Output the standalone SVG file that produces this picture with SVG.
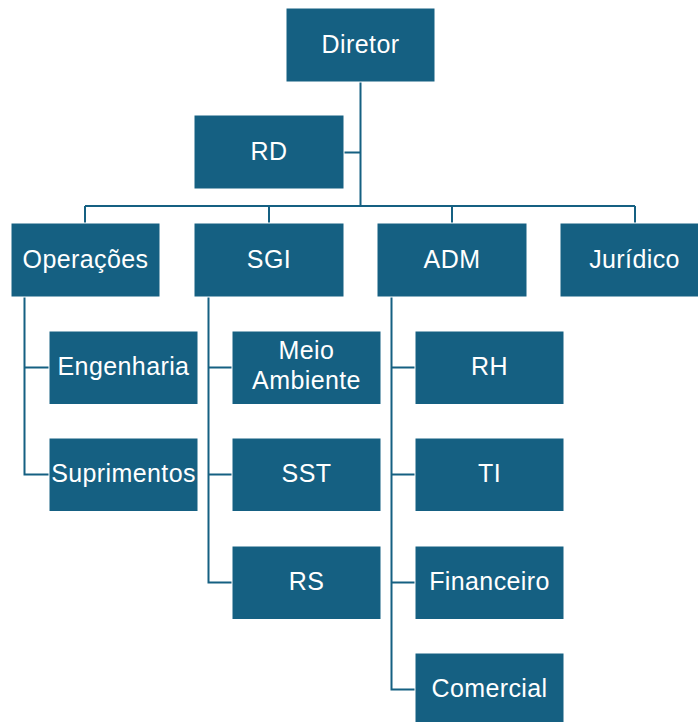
<svg xmlns="http://www.w3.org/2000/svg" width="698" height="722" viewBox="0 0 698 722">
<style>
.box{fill:#156082;stroke:#ffffff;stroke-width:1}
.lbl{fill:#ffffff;font-family:"Liberation Sans","Noto Sans",Arial,sans-serif;font-size:25px;letter-spacing:0.4px;text-anchor:middle}
.con{fill:none;stroke:#156082;stroke-width:2}
</style>
<rect width="698" height="722" fill="#ffffff"/>
<g id="connectors">
<path class="con" d="M360.5 82 V206 M344 152.5 H360.5 M85 206 H635 M85 206 V223 M269 206 V223 M452 206 V223 M635 206 V223"/>
<path class="con" d="M24.5 297 V474.5 H49 M24.5 367.5 H49"/>
<path class="con" d="M208.5 297 V582.5 H232 M208.5 367.5 H232 M208.5 474.5 H232"/>
<path class="con" d="M391.5 297 V689.5 H415 M391.5 367.5 H415 M391.5 474.5 H415 M391.5 582.5 H415"/>
</g>
<g id="diretor"><rect class="box" x="286" y="8" width="149" height="74"/><text class="lbl" x="360.5" y="52.6">Diretor</text></g>
<g id="rd"><rect class="box" x="194" y="115" width="150" height="74"/><text class="lbl" x="269" y="159.8">RD</text></g>
<g id="operacoes"><rect class="box" x="11" y="223" width="149" height="74"/><text class="lbl" x="85.5" y="267.6">Operações</text></g>
<g id="sgi"><rect class="box" x="194" y="223" width="150" height="74"/><text class="lbl" x="269" y="267.6">SGI</text></g>
<g id="adm"><rect class="box" x="377" y="223" width="150" height="74"/><text class="lbl" x="452" y="267.6">ADM</text></g>
<g id="juridico"><rect class="box" x="560" y="223" width="149" height="74"/><text class="lbl" x="634.5" y="267.6">Jurídico</text></g>
<g id="engenharia"><rect class="box" x="49" y="331" width="149" height="73.5"/><text class="lbl" x="123.5" y="375">Engenharia</text></g>
<g id="suprimentos"><rect class="box" x="49" y="438" width="149" height="73.5"/><text class="lbl" x="123.5" y="482">Suprimentos</text></g>
<g id="meio-ambiente"><rect class="box" x="232" y="331" width="149" height="73.5"/><text class="lbl" x="306.5" y="359.3">Meio</text><text class="lbl" x="306.5" y="389">Ambiente</text></g>
<g id="sst"><rect class="box" x="232" y="438" width="149" height="73.5"/><text class="lbl" x="306.5" y="482">SST</text></g>
<g id="rs"><rect class="box" x="232" y="546" width="149" height="73.5"/><text class="lbl" x="306.5" y="590">RS</text></g>
<g id="rh"><rect class="box" x="415" y="331" width="149" height="73.5"/><text class="lbl" x="489.5" y="375">RH</text></g>
<g id="ti"><rect class="box" x="415" y="438" width="149" height="73.5"/><text class="lbl" x="489.5" y="482">TI</text></g>
<g id="financeiro"><rect class="box" x="415" y="546" width="149" height="73.5"/><text class="lbl" x="489.5" y="590">Financeiro</text></g>
<g id="comercial"><rect class="box" x="415" y="653" width="149" height="73.5"/><text class="lbl" x="489.5" y="697">Comercial</text></g>
</svg>
